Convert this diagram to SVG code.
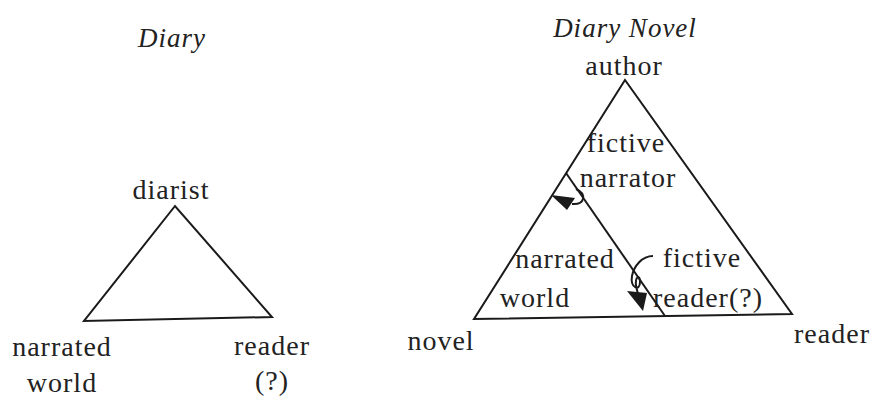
<svg xmlns="http://www.w3.org/2000/svg" width="877" height="401" viewBox="0 0 877 401">
<style>
text{font-family:"Liberation Serif","DejaVu Serif",serif;font-size:28px;fill:#222;text-anchor:middle;letter-spacing:1px}
.t{font-style:italic;font-size:27px}
.e{stroke:#1a1a1a;stroke-width:2;fill:none;stroke-linejoin:miter}
.h{fill:#1a1a1a;stroke:none}
</style>
<rect width="877" height="401" fill="#fff"/>
<g id="connectors">
<polygon class="e" points="175,206 84,321 272,317"/>
<polygon class="e" points="625,80 474,319 792,314"/>
<line class="e" x1="566" y1="173" x2="665" y2="316"/>
<path class="e" stroke-width="1.6" d="M576,189 C587,194 585,205 572,204"/>
<polygon class="h" points="551,195 575,198 567,210"/>
<path class="e" stroke-width="1.6" d="M653,256 C642,256 634,266 632,276 C630,288 640,292 640,282 C640,274 635,276 636,286 L638,294"/>
<polygon class="h" points="627,291 647,293 643,311"/>
</g>
<g id="title-diary"><text class="t" x="172" y="47">Diary</text></g>
<g id="title-diary-novel"><text class="t" x="625" y="37">Diary Novel</text></g>
<g id="diarist"><text x="171" y="199">diarist</text></g>
<g id="narrated-world-1"><text x="62" y="356">narrated</text><text x="62" y="392">world</text></g>
<g id="reader-1"><text x="272" y="355">reader</text><text x="272" y="390">(?)</text></g>
<g id="author"><text x="624" y="75">author</text></g>
<g id="fictive-narrator"><text x="626" y="152">fictive</text><text x="628" y="187">narrator</text></g>
<g id="narrated-world-2"><text x="565" y="268">narrated</text><text x="535" y="307">world</text></g>
<g id="fictive-reader"><text x="702" y="267">fictive</text><text x="708" y="307">reader(?)</text></g>
<g id="novel"><text x="441" y="350">novel</text></g>
<g id="reader-2"><text x="832" y="343">reader</text></g>
</svg>
